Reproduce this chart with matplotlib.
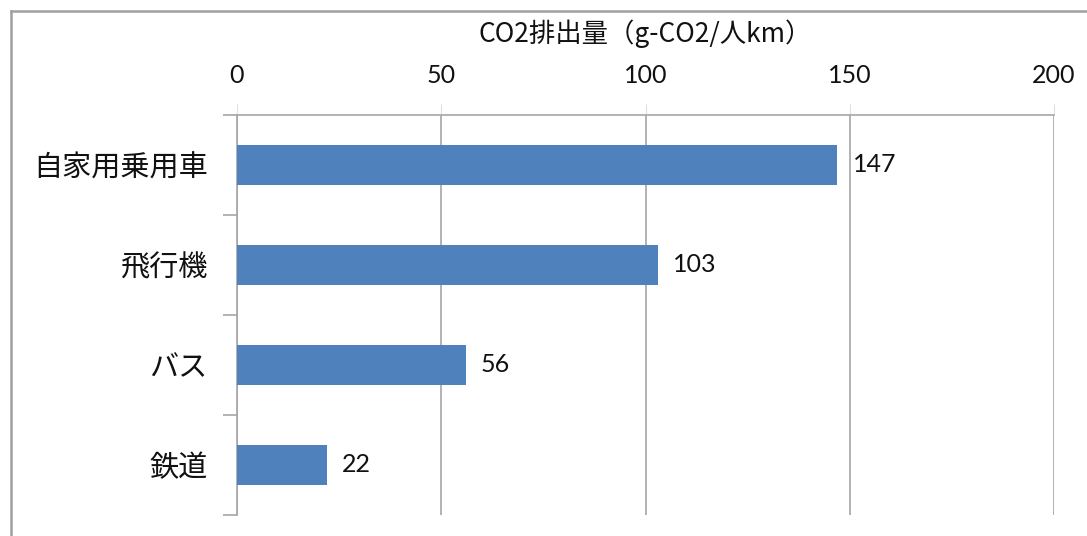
import matplotlib.pyplot as plt
from matplotlib.lines import Line2D
import numpy as np

plt.rcParams['font.family'] = ['Lato', 'Noto Sans CJK JP', 'DejaVu Sans']

# CO2 emissions per passenger-km by mode of transport
modes = ['自家用乗用車', '飛行機', 'バス', '鉄道']
emissions = [147, 103, 56, 22]
x_ticks = [0, 50, 100, 150, 200]
title = 'CO2排出量（g-CO2/人km）'

bar_color = '#4F81BD'
grid_color = '#A6A6A6'
text_color = '#111111'

fig = plt.figure(figsize=(10.87, 5.36), dpi=100)
ax = fig.add_axes([237 / 1087, 1 - 515 / 536, (1054 - 237) / 1087, 400 / 536])

y = np.arange(len(modes))
ax.barh(y, emissions, height=0.4, color=bar_color, zorder=3)
ax.set_ylim(len(modes) - 0.5, -0.5)
ax.set_xlim(0, 200)

# value labels at the end of each bar
for yi, v in zip(y, emissions):
    ax.text(v + 3.7, yi, str(v), va='center', ha='left', fontsize=18, color=text_color)

# x axis on top
ax.xaxis.tick_top()
ax.set_xticks(x_ticks)
ax.set_xticklabels([str(t) for t in x_ticks], fontsize=18, color=text_color)
ax.tick_params(axis='x', length=8, color='#E0E0E0', pad=12)
ax.grid(axis='x', color=grid_color, linewidth=1.2, zorder=0)

# category labels, ticks sit between categories
ax.set_yticks(y)
ax.set_yticklabels(modes, fontsize=21, color=text_color)
ax.set_yticks(np.arange(len(modes) + 1) - 0.5, minor=True)
ax.tick_params(axis='y', which='major', length=0, pad=21)
ax.tick_params(axis='y', which='minor', length=10, color=grid_color, width=1.2)
for lbl in ax.get_yticklabels():
    lbl.set_family(['Noto Sans CJK JP'])

for side in ['right', 'bottom']:
    ax.spines[side].set_visible(False)
ax.spines['top'].set_color(grid_color)
ax.spines['left'].set_color(grid_color)
ax.spines['top'].set_linewidth(1.2)
ax.spines['left'].set_linewidth(1.2)

fig.text((237 + 1054) / 2 / 1087, 1 - 34 / 536, title, ha='center', va='center',
         fontsize=19, family=['Noto Sans CJK JP'], color=text_color)

# chart frame (top and left edges)
fx = 10.5 / 1087
fy = 1 - 10.5 / 536
fig.add_artist(Line2D([fx, fx], [0, fy], transform=fig.transFigure, color='#A0A0A0', lw=1.8))
fig.add_artist(Line2D([fx, 1], [fy, fy], transform=fig.transFigure, color='#A0A0A0', lw=1.8))

fig.savefig('out.png', dpi=100)
